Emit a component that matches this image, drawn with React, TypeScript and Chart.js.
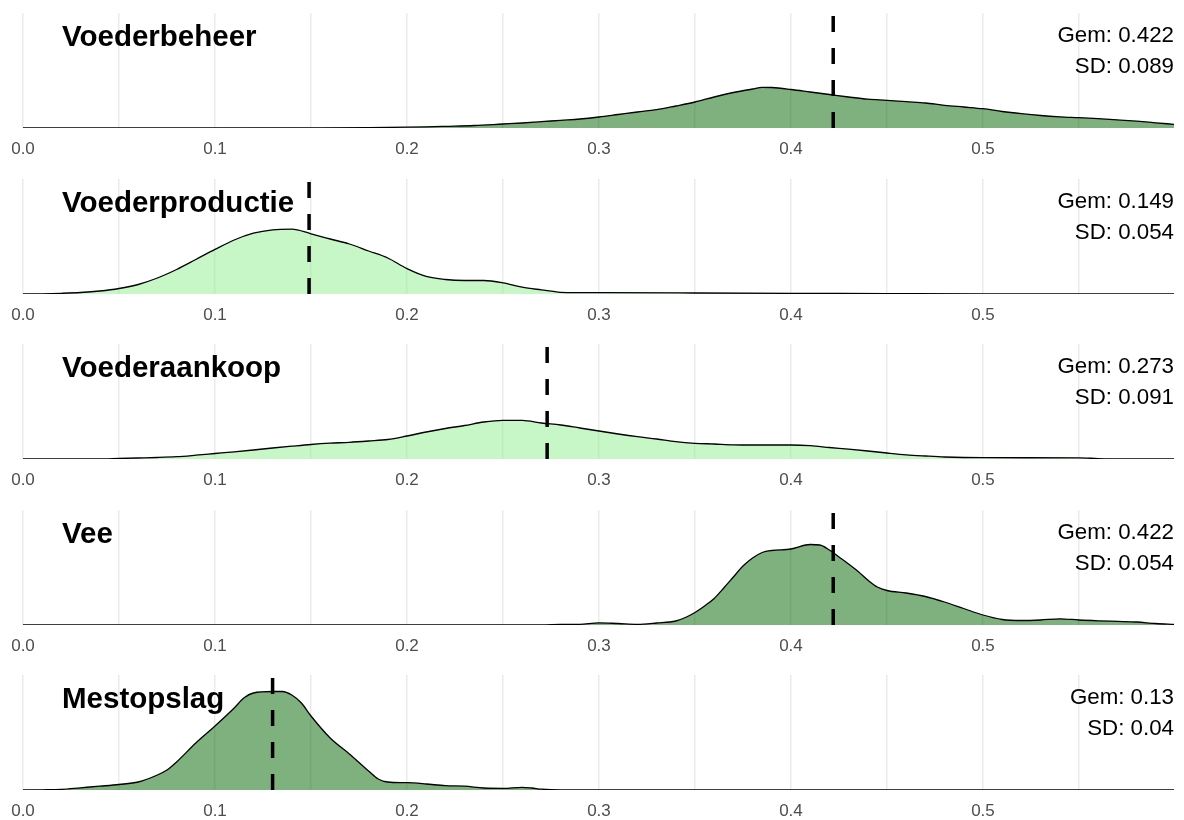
import { useEffect, useRef } from "react";
import { Chart, registerables } from "chart.js";

Chart.register(...registerables);

// Panel names, summary statistics and fill groups
const categories = ["Voederbeheer", "Voederproductie", "Voederaankoop", "Vee", "Mestopslag"];
const means = [0.422, 0.149, 0.273, 0.422, 0.13];
const sds = [0.089, 0.054, 0.091, 0.054, 0.04];
const fillGroup = ["dark", "light", "light", "dark", "dark"];

// Density curves (x = share, y = density)
const voederbeheerX = [0, 0.05, 0.1, 0.15, 0.18, 0.2, 0.21, 0.22, 0.235, 0.25, 0.26, 0.27, 0.28, 0.29, 0.3, 0.31, 0.32, 0.33, 0.34, 0.35, 0.36, 0.37, 0.38, 0.385, 0.39, 0.4, 0.41, 0.42, 0.43, 0.44, 0.45, 0.46, 0.47, 0.48, 0.49, 0.5, 0.51, 0.52, 0.53, 0.54, 0.55, 0.56, 0.57, 0.58, 0.59, 0.5995];
const voederbeheerY = [0, 0, 0.01, 0.02, 0.04, 0.08, 0.12, 0.17, 0.25, 0.4, 0.5, 0.63, 0.77, 0.9, 1.1, 1.35, 1.6, 1.83, 2.2, 2.6, 3.1, 3.55, 3.9, 4.07, 4.05, 3.85, 3.6, 3.35, 3.1, 2.88, 2.77, 2.63, 2.5, 2.27, 2.1, 1.93, 1.65, 1.43, 1.25, 1.12, 1.03, 0.93, 0.81, 0.68, 0.52, 0.37];

const voederproductieX = [0, 0.01, 0.02, 0.03, 0.04, 0.05, 0.06, 0.07, 0.08, 0.09, 0.1, 0.11, 0.12, 0.13, 0.14, 0.15, 0.16, 0.17, 0.18, 0.19, 0.2, 0.21, 0.22, 0.23, 0.24, 0.25, 0.26, 0.27, 0.28, 0.29, 0.3, 0.35, 0.4, 0.45, 0.5, 0.55, 0.5995];
const voederproductieY = [0, 0.02, 0.07, 0.15, 0.3, 0.55, 0.95, 1.6, 2.45, 3.45, 4.46, 5.4, 6.08, 6.42, 6.49, 6.02, 5.5, 5.0, 4.3, 3.6, 2.54, 1.76, 1.45, 1.35, 1.35, 1.12, 0.68, 0.41, 0.17, 0.14, 0.13, 0.1, 0.07, 0.04, 0.01, 0, 0];

const voederaankoopX = [0, 0.04, 0.05, 0.06, 0.07, 0.08, 0.09, 0.1, 0.11, 0.12, 0.13, 0.14, 0.15, 0.16, 0.17, 0.18, 0.19, 0.2, 0.21, 0.22, 0.23, 0.24, 0.25, 0.26, 0.27, 0.28, 0.29, 0.3, 0.31, 0.32, 0.33, 0.34, 0.35, 0.36, 0.37, 0.38, 0.39, 0.4, 0.41, 0.42, 0.43, 0.44, 0.45, 0.46, 0.47, 0.48, 0.5, 0.55, 0.56, 0.57, 0.5995];
const voederaankoopY = [0, 0, 0.05, 0.1, 0.15, 0.23, 0.38, 0.55, 0.72, 0.9, 1.1, 1.28, 1.45, 1.58, 1.67, 1.8, 1.95, 2.3, 2.7, 3.05, 3.35, 3.7, 3.87, 3.87, 3.6, 3.4, 3.1, 2.8, 2.5, 2.23, 2.0, 1.73, 1.57, 1.5, 1.42, 1.4, 1.4, 1.4, 1.33, 1.15, 0.98, 0.8, 0.6, 0.42, 0.3, 0.2, 0.13, 0.12, 0.04, 0, 0];

const veeX = [0, 0.27, 0.28, 0.29, 0.3, 0.31, 0.32, 0.33, 0.34, 0.345, 0.35, 0.355, 0.36, 0.365, 0.37, 0.375, 0.38, 0.385, 0.39, 0.4, 0.41, 0.415, 0.42, 0.425, 0.43, 0.435, 0.44, 0.445, 0.45, 0.46, 0.47, 0.48, 0.49, 0.5, 0.51, 0.52, 0.53, 0.54, 0.55, 0.56, 0.57, 0.58, 0.59, 0.5995];
const veeY = [0, 0, 0.05, 0.07, 0.22, 0.15, 0.07, 0.2, 0.4, 0.75, 1.25, 1.9, 2.65, 3.7, 4.8, 5.9, 6.7, 7.25, 7.45, 7.6, 8.05, 8.0, 7.5, 6.8, 6.1, 5.35, 4.5, 3.8, 3.45, 3.2, 2.85, 2.3, 1.65, 1.0, 0.55, 0.45, 0.5, 0.62, 0.5, 0.42, 0.36, 0.3, 0.15, 0.07];

const mestopslagX = [0, 0.01, 0.02, 0.03, 0.04, 0.05, 0.06, 0.07, 0.075, 0.08, 0.09, 0.1, 0.11, 0.115, 0.12, 0.13, 0.135, 0.14, 0.145, 0.15, 0.16, 0.17, 0.18, 0.185, 0.19, 0.2, 0.21, 0.22, 0.23, 0.24, 0.25, 0.26, 0.265, 0.27, 0.28, 0.5995];
const mestopslagY = [0, 0.02, 0.06, 0.22, 0.38, 0.55, 0.8, 1.5, 2.0, 2.8, 4.7, 6.4, 8.2, 9.2, 9.7, 9.85, 9.85, 9.5, 8.7, 7.4, 5.2, 3.6, 1.9, 1.1, 0.8, 0.73, 0.6, 0.43, 0.38, 0.2, 0.17, 0.27, 0.2, 0.08, 0, 0];

const curveX = [voederbeheerX, voederproductieX, voederaankoopX, veeX, mestopslagX];
const curveY = [voederbeheerY, voederproductieY, voederaankoopY, veeY, mestopslagY];

// Axis ticks: grid every 0.05, labels every 0.1
const tickValues = [0, 0.05, 0.1, 0.15, 0.2, 0.25, 0.3, 0.35, 0.4, 0.45, 0.5, 0.55];
const tickLabels = ["0.0", "", "0.1", "", "0.2", "", "0.3", "", "0.4", "", "0.5", ""];

const X_MIN = 0;
const X_MAX = 0.5995;
const Y_MAX = 11.5;

const FILLS: Record<string, string> = {
  dark: "rgba(0,100,0,0.5)",
  light: "rgba(144,238,144,0.5)",
};

const FONT = "'Liberation Sans', Arial, Helvetica, sans-serif";
const PANEL_W = 1184;
const PANEL_H = 166;
const PANEL_STEP = 165.5;

const meanLinePlugin = {
  id: "meanLine",
  afterDatasetsDraw(chart: any, _args: any, opts: any) {
    const { ctx, chartArea, scales } = chart;
    const x = scales.x.getPixelForValue(opts.value);
    ctx.save();
    ctx.strokeStyle = "#000";
    ctx.lineWidth = 3.5;
    ctx.lineCap = "butt";
    ctx.setLineDash([16, 16]);
    ctx.beginPath();
    ctx.moveTo(x, chartArea.bottom);
    ctx.lineTo(x, chartArea.top);
    ctx.stroke();
    ctx.restore();
  },
};

function Panel({ index }: { index: number }) {
  const canvasRef = useRef<HTMLCanvasElement | null>(null);

  useEffect(() => {
    if (!canvasRef.current) return;
    const xs = curveX[index];
    const ys = curveY[index];
    const chart = new Chart(canvasRef.current, {
      type: "line",
      data: {
        datasets: [
          {
            data: xs.map((x, i) => ({ x, y: ys[i] })),
            borderColor: "#000",
            borderWidth: 1.3,
            backgroundColor: FILLS[fillGroup[index]],
            fill: "origin",
            pointRadius: 0,
            cubicInterpolationMode: "monotone",
          },
        ],
      },
      options: {
        responsive: false,
        maintainAspectRatio: false,
        animation: false,
        events: [],
        layout: { padding: { left: 23, right: 10, top: 13, bottom: 0 } },
        plugins: {
          legend: { display: false },
          tooltip: { enabled: false },
          meanLine: { value: means[index] },
        } as any,
        scales: {
          x: {
            type: "linear",
            min: X_MIN,
            max: X_MAX,
            afterBuildTicks: (scale: any) => {
              scale.ticks = tickValues.map((v) => ({ value: v }));
            },
            afterFit: (scale: any) => {
              scale.height = 38;
            },
            ticks: {
              autoSkip: false,
              maxRotation: 0,
              minRotation: 0,
              padding: 11,
              color: "#4D4D4D",
              font: { family: FONT, size: 17 },
              callback: (_v: any, i: number) => tickLabels[i],
            },
            grid: { color: "#EBEBEB", lineWidth: 1.5, drawTicks: false },
            border: { display: false },
          },
          y: { display: false, min: 0, max: Y_MAX },
        },
      },
      plugins: [meanLinePlugin],
    });
    return () => chart.destroy();
  }, [index]);

  return (
    <div
      style={{
        position: "absolute",
        left: 0,
        top: Math.round(index * PANEL_STEP),
        width: PANEL_W,
        height: PANEL_H,
      }}
    >
      <canvas
        ref={canvasRef}
        width={PANEL_W}
        height={PANEL_H}
        style={{ display: "block", width: PANEL_W, height: PANEL_H }}
      />
      <div
        style={{
          position: "absolute",
          left: 62,
          top: 21.3,
          fontFamily: FONT,
          fontWeight: "bold",
          fontSize: 29.5,
          lineHeight: "29.5px",
          color: "#000",
          whiteSpace: "nowrap",
        }}
      >
        {categories[index]}
      </div>
      <div
        style={{
          position: "absolute",
          right: 10,
          top: 18.5,
          fontFamily: FONT,
          fontSize: 22.3,
          lineHeight: "31px",
          color: "#000",
          textAlign: "right",
          whiteSpace: "nowrap",
        }}
      >
        <div>{`Gem: ${means[index]}`}</div>
        <div>{`SD: ${sds[index]}`}</div>
      </div>
    </div>
  );
}

export default function App() {
  return (
    <div
      style={{
        position: "absolute",
        left: 0,
        top: 0,
        width: 1184,
        height: 820,
        overflow: "hidden",
        background: "#fff",
      }}
    >
      {categories.map((_, i) => (
        <Panel key={categories[i]} index={i} />
      ))}
    </div>
  );
}
